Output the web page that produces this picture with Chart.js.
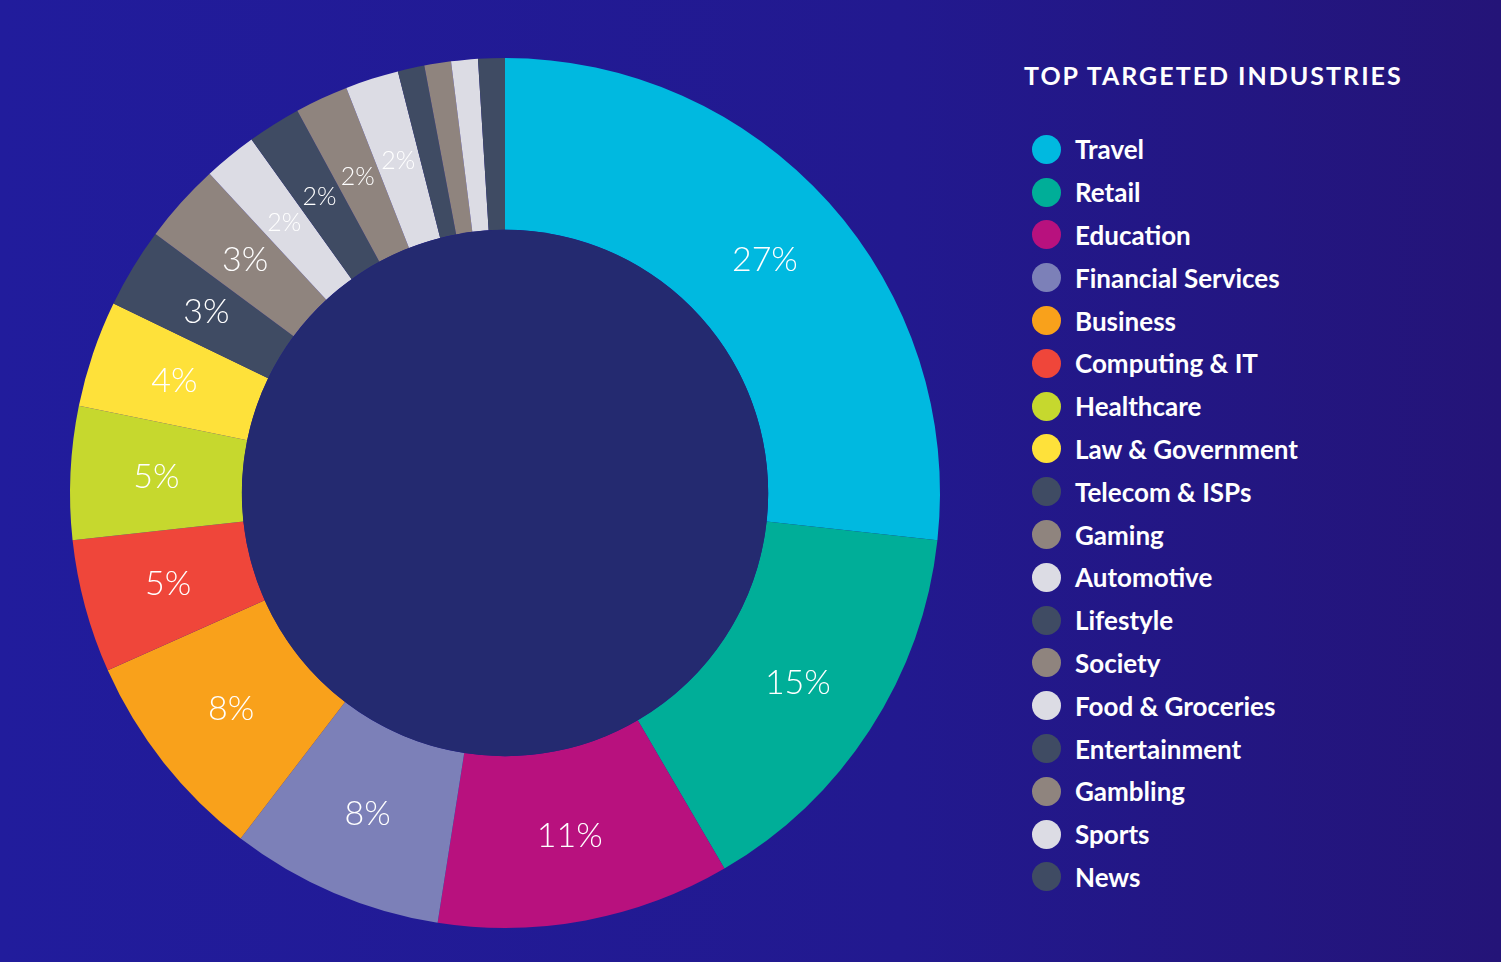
<!DOCTYPE html>
<html>
<head>
<meta charset="utf-8">
<script src="https://cdn.jsdelivr.net/npm/chart.js@4"></script>
<style>
  body { margin: 0; width: 1501px; height: 962px; overflow: hidden;
         background: linear-gradient(90deg, #211c9c 0%, #22198f 60%, #241478 100%);
         font-family: Lato, "Open Sans", sans-serif; }
  #wrap { position: absolute; left: 0; top: 0; width: 1010px; height: 962px; }
  #legend { position: absolute; left: 1024px; top: 60px; color: #fff; }
  #legend h2 { margin: 0 0 38px 0; font-size: 25px; font-weight: 700; letter-spacing: 2px; }
  .item { display: flex; align-items: center; height: 42.8px; font-size: 26px; font-weight: 700; }
  .dot { width: 29px; height: 29px; border-radius: 50%; margin: 0 14px 0 8px; }
</style>
</head>
<body>
<div id="wrap"><canvas id="chart"></canvas></div>
<div id="legend"><h2>TOP TARGETED INDUSTRIES</h2></div>
<script>
const categories = ['Travel', 'Retail', 'Education', 'Financial Services', 'Business', 'Computing & IT',
    'Healthcare', 'Law & Government', 'Telecom & ISPs', 'Gaming', 'Automotive', 'Lifestyle', 'Society',
    'Food & Groceries', 'Entertainment', 'Gambling', 'Sports', 'News'];
const values = [27, 15, 11, 8, 8, 5, 5, 4, 3, 3, 2, 2, 2, 2, 1, 1, 1, 1];
const colors = ['#00b9e0', '#00ae98', '#b8117e', '#7c80b8', '#f9a11b', '#ef463a', '#c6d82e', '#fee13a',
    '#3f4b63', '#8f847e', '#dcdce4', '#3f4b63', '#8f847e', '#dcdce4', '#3f4b63', '#8f847e', '#dcdce4', '#3f4b63'];

// legend
const legend = document.getElementById('legend');
categories.forEach((c, i) => {
    const d = document.createElement('div');
    d.className = 'item';
    d.innerHTML = `<span class="dot" style="background:${colors[i]}"></span>${c}`;
    legend.appendChild(d);
});

const centerFill = {
    id: 'centerFill',
    afterDatasetsDraw(chart) {
        const arc = chart.getDatasetMeta(0).data[0];
        const ctx = chart.ctx;
        ctx.save();
        ctx.beginPath();
        ctx.arc(arc.x, arc.y, arc.innerRadius, 0, Math.PI * 2);
        ctx.fillStyle = '#242a70';
        ctx.fill();
        // percent labels
        ctx.fillStyle = '#fff';
        ctx.textAlign = 'center';
        ctx.textBaseline = 'middle';
        chart.getDatasetMeta(0).data.forEach((a, i) => {
            if (values[i] < 2) return;
            const p = a.tooltipPosition();
            const size = values[i] >= 3 ? 34 : 25;
            ctx.font = '300 ' + size + 'px Lato, sans-serif';
            ctx.fillText(values[i] + '%', p.x, p.y);
        });
        ctx.restore();
    }
};

new Chart(document.getElementById('chart'), {
    type: 'doughnut',
    data: {
        labels: categories,
        datasets: [{ data: values, backgroundColor: colors, borderWidth: 0 }]
    },
    options: {
        responsive: true,
        maintainAspectRatio: false,
        animation: false,
        cutout: '60.5%',
        layout: { padding: { top: 58, bottom: 34, left: 70, right: 70 } },
        plugins: { legend: { display: false }, tooltip: { enabled: false } }
    },
    plugins: [centerFill]
});
</script>
</body>
</html>
